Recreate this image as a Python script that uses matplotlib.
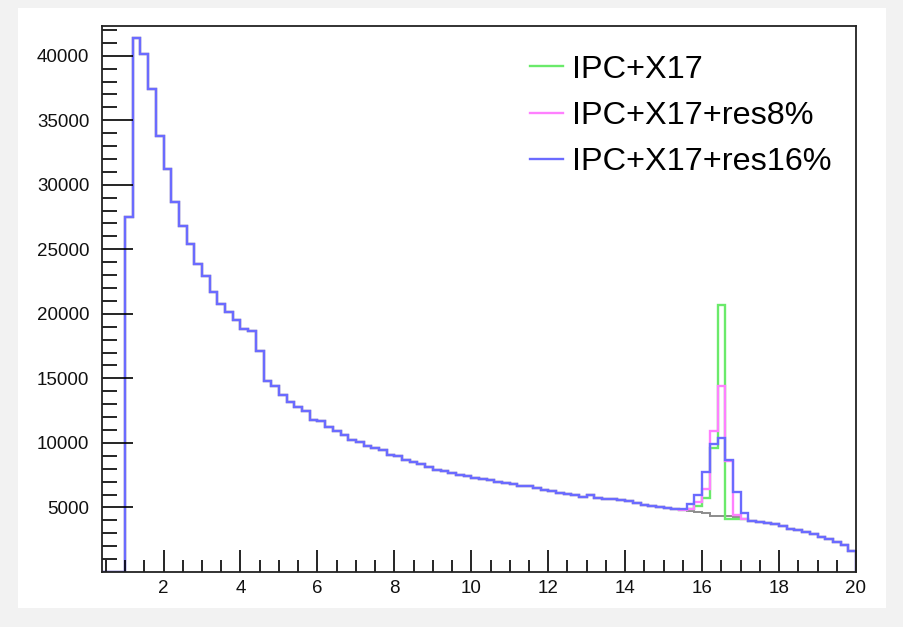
import numpy as np
import matplotlib
matplotlib.use("Agg")
import matplotlib.pyplot as plt
from matplotlib.patches import Rectangle

plt.rcParams['font.family'] = ['Liberation Sans', 'DejaVu Sans']

# histogram binning: 0.4 .. 20, 0.2 wide
x_lo, x_hi, n_bins = 0.4, 20.0, 98

# IPC only (grey), counts per bin
ipc = [
    0, 0, 0,
    27500, 41400, 40100, 37400, 33800, 31200, 28700, 26800, 25400, 23900,
    22900, 21700, 20800, 20150, 19550, 18800, 18650, 17100, 14800, 14400,
    13700, 13150, 12750, 12450, 11750, 11700, 11250, 10900, 10600, 10200,
    10050, 9750, 9570, 9440, 9100, 8970, 8660, 8560, 8330, 8120,
    7940, 7860, 7680, 7550, 7420, 7300, 7170, 7110, 6990, 6910,
    6780, 6700, 6650, 6520, 6390, 6260, 6140, 6080, 5930, 5830,
    5930, 5750, 5620, 5620, 5560, 5490, 5360, 5200, 5100, 5000,
    4930, 4850,
    4780, 4720, 4620, 4550, 4350, 4330, 4300, 4250, 4100, 3940,
    3880, 3810, 3680, 3550, 3300, 3240, 3090, 2910, 2730, 2520,
    2350, 2060, 1620,
]

# bins 15.4 .. 17.4 where the X17 signal sits
peak_first_bin = 75
x17_peak = [4800, 4850, 5100, 5750, 9620, 20700, 4070, 4070, 4100, 3940]
res8_peak = [4800, 4900, 5400, 6450, 10900, 14400, 8600, 4420, 4100, 3940]
res16_peak = [4850, 5300, 6000, 7730, 9900, 10400, 8650, 6200, 4590, 3940]

labels = ["IPC+X17", "IPC+X17+res8%", "IPC+X17+res16%"]
colors = ["#6aea6a", "#ff80ff", "#6b6bff"]


def with_peak(base, peak):
    vals = np.array(base, dtype=float)
    vals[peak_first_bin:peak_first_bin + len(peak)] = peak
    return vals


edges = np.linspace(x_lo, x_hi, n_bins + 1)

fig = plt.figure(figsize=(9.04, 6.27), dpi=100, facecolor="#f2f2f2")
fig.patches.append(Rectangle((18 / 904, 19 / 627), 868 / 904, 600 / 627,
                             transform=fig.transFigure, facecolor="white",
                             edgecolor="none", zorder=-10))
ax = fig.add_axes([102 / 904, 55 / 627, 754 / 904, 546 / 627])

ax.stairs(ipc, edges, color="#8c8c8c", lw=1.4)
for peak, lab, col in zip([x17_peak, res8_peak, res16_peak], labels, colors):
    ax.stairs(with_peak(ipc, peak), edges, color=col, lw=1.7, label=lab)

ax.set_xlim(x_lo, x_hi)
ax.set_ylim(0, 42300)
ax.set_xticks(np.arange(2, 21, 2))
ax.set_xticks(np.arange(0.5, 20.01, 0.5), minor=True)
ax.set_yticks(np.arange(5000, 40001, 5000))
ax.set_yticks(np.arange(1000, 42001, 1000), minor=True)
ax.tick_params(which="both", direction="in", labelsize=13.5, width=1.2,
               top=False, right=False, labelcolor="#111111")
ax.tick_params(axis="y", which="major", length=22, pad=9)
ax.tick_params(axis="y", which="minor", length=11)
ax.tick_params(axis="x", which="major", length=16, pad=6)
ax.tick_params(axis="x", which="minor", length=9)
for s in ax.spines.values():
    s.set_linewidth(1.3)
    s.set_color("#222222")

ax.legend(loc="upper left", bbox_to_anchor=(0.551, 0.971), frameon=False,
          fontsize=23.3, handlelength=1.0, handletextpad=0.28,
          labelspacing=0.5, borderaxespad=0)

fig.savefig("out.png", dpi=100, facecolor=fig.get_facecolor())
